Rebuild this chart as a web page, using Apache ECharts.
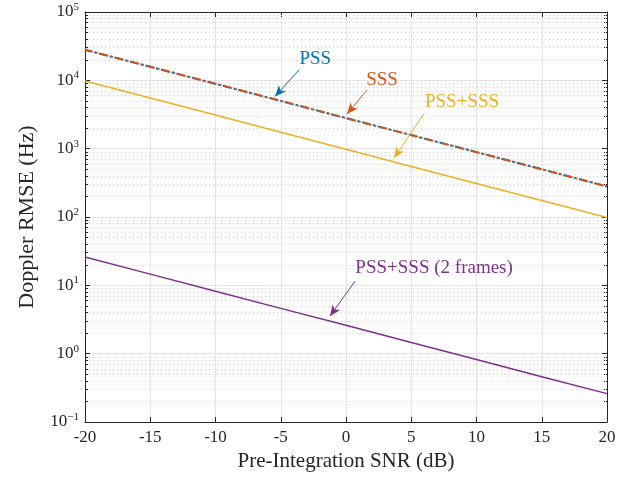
<!DOCTYPE html>
<html>
<head>
<meta charset="utf-8">
<script src="https://cdn.jsdelivr.net/npm/echarts@6/dist/echarts.min.js"></script>
<style>html,body{margin:0;padding:0;background:#fff}#c{width:638px;height:480px}</style>
</head>
<body>
<div id="c"></div>
<script>
const snr = [-20, -15, -10, -5, 0, 5, 10, 15, 20];
const pss = [28000, 15800, 8900, 5000, 2800, 1580, 890, 500, 280];
const sss = [28000, 15800, 8900, 5000, 2800, 1580, 890, 500, 280];
const pssSss = [9800, 5500, 3100, 1740, 980, 550, 310, 174, 98];
const pssSss2 = [26, 14.6, 8.2, 4.6, 2.6, 1.46, 0.82, 0.46, 0.26];
const xTicks = [-20, -15, -10, -5, 0, 5, 10, 15, 20];
const yTickExp = [-1, 0, 1, 2, 3, 4, 5];
const yMinor = [0.2,0.3,0.4,0.5,0.6,0.7,0.8,0.9,2,3,4,5,6,7,8,9,20,30,40,50,60,70,80,90,200,300,400,500,600,700,800,900,2000,3000,4000,5000,6000,7000,8000,9000,20000,30000,40000,50000,60000,70000,80000,90000];
// annotations: [label, textX, textY, tailX, tailY, headX, headY]
const annPss = ['PSS', -2.35, 20500, -3.6, 14200, -5.44, 5800];
const annSss = ['SSS', 2.76, 10000, 1.61, 7200, 0.08, 3210];
const annBoth = ['PSS+SSS', 8.89, 4810, 6.0, 3300, 3.68, 728];
const annTwo = ['PSS+SSS (2 frames)', 6.75, 17.7, 0.69, 11.5, -1.23, 3.54];

const FONT = 'Liberation Serif';
const AX = '#262626';
const pairs = (ys) => snr.map((x, i) => [x, ys[i]]);
const supMap = {'-1':'\u22121'};
function yLabel(v) {
  const e = Math.round(Math.log10(v));
  return '10{s|' + (supMap[String(e)] || String(e)) + '}';
}
function ann(a, color) {
  return {
    markLine: {
      silent: true, animation: false,
      symbol: ['none', 'arrow'], symbolSize: [7, 11],
      lineStyle: {color: color, width: 1, type: 'solid'},
      label: {show: false},
      data: [[{coord: [a[3], a[4]]}, {coord: [a[5], a[6]]}]]
    },
    markPoint: {
      silent: true, animation: false,
      symbol: 'circle', symbolSize: 0,
      label: {show: true, position: 'inside', formatter: a[0], color: color, fontFamily: FONT, fontSize: 19},
      data: [{coord: [a[1], a[2]]}]
    }
  };
}
const dashDot = [8, 3, 2, 3];
const chart = echarts.init(document.getElementById('c'), null, {renderer: 'canvas'});
const baseY = {type: 'log', logBase: 10, min: 0.1, max: 100000, splitNumber: 6};
const noLine = {show: false, onZero: false};
chart.setOption({
  animation: false,
  backgroundColor: '#fff',
  grid: {left: 85, right: 31, top: 12, bottom: 58, containLabel: false},
  xAxis: [
    {type: 'value', min: -20, max: 20, interval: 5, position: 'bottom',
     name: 'Pre-Integration SNR (dB)', nameLocation: 'middle', nameGap: 28,
     nameTextStyle: {fontFamily: FONT, fontSize: 21, color: AX},
     axisLine: {show: true, onZero: false, lineStyle: {color: AX, width: 1}},
     axisTick: {show: true, inside: true, length: 5, lineStyle: {color: AX}},
     axisLabel: {fontFamily: FONT, fontSize: 17, color: AX, margin: 7},
     splitLine: {show: true, lineStyle: {color: '#e3e3e3', width: 1}}},
    {type: 'value', min: -20, max: 20, interval: 5, position: 'top',
     axisLine: {show: true, onZero: false, lineStyle: {color: AX, width: 1}},
     axisTick: {show: true, inside: true, length: 5, lineStyle: {color: AX}},
     axisLabel: {show: false}, splitLine: {show: false}}
  ],
  yAxis: [
    Object.assign({}, baseY, {position: 'left',
     name: 'Doppler RMSE (Hz)', nameLocation: 'middle', nameGap: 47,
     nameTextStyle: {fontFamily: FONT, fontSize: 22, color: AX},
     axisLine: {show: true, onZero: false, lineStyle: {color: AX, width: 1}},
     axisTick: {show: true, inside: true, length: 5, lineStyle: {color: AX}},
     axisLabel: {fontFamily: FONT, fontSize: 17, color: AX, margin: 6, formatter: yLabel,
       rich: {s: {fontFamily: FONT, fontSize: 11, color: AX, verticalAlign: 'top', padding: [0, 0, 10, 0]}}},
     splitLine: {show: true, lineStyle: {color: '#e3e3e3', width: 1}}}),
    Object.assign({}, baseY, {position: 'left', z: 1,
     axisLine: noLine,
     axisTick: {show: true, inside: true, length: 3, customValues: yMinor, lineStyle: {color: AX}},
     axisLabel: {show: false},
     splitLine: {show: true, lineStyle: {color: '#d0d0d0', width: 1, type: [1, 3]}}}),
    Object.assign({}, baseY, {position: 'right',
     axisLine: {show: true, onZero: false, lineStyle: {color: AX, width: 1}},
     axisTick: {show: true, inside: true, length: 5, lineStyle: {color: AX}},
     axisLabel: {show: false}, splitLine: {show: false}}),
    Object.assign({}, baseY, {position: 'right',
     axisLine: noLine,
     axisTick: {show: true, inside: true, length: 3, customValues: yMinor, lineStyle: {color: AX}},
     axisLabel: {show: false}, splitLine: {show: false}})
  ],
  series: [
    Object.assign({name: 'PSS', type: 'line', data: pairs(pss), showSymbol: false, z: 3,
      lineStyle: {color: '#0072BD', width: 2, type: dashDot, dashOffset: 1.5}, itemStyle: {color: '#0072BD'}}, ann(annPss, '#0072BD')),
    Object.assign({name: 'SSS', type: 'line', data: pairs(sss), showSymbol: false, z: 4,
      lineStyle: {color: '#D95319', width: 2, type: dashDot}, itemStyle: {color: '#D95319'}}, ann(annSss, '#D95319')),
    Object.assign({name: 'PSS+SSS', type: 'line', data: pairs(pssSss), showSymbol: false, z: 3,
      lineStyle: {color: '#EDB120', width: 1.5}, itemStyle: {color: '#EDB120'}}, ann(annBoth, '#EDB120')),
    Object.assign({name: 'PSS+SSS (2 frames)', type: 'line', data: pairs(pssSss2), showSymbol: false, z: 3,
      lineStyle: {color: '#7E2F8E', width: 1.5}, itemStyle: {color: '#7E2F8E'}}, ann(annTwo, '#7E2F8E'))
  ]
});
</script>
</body>
</html>
